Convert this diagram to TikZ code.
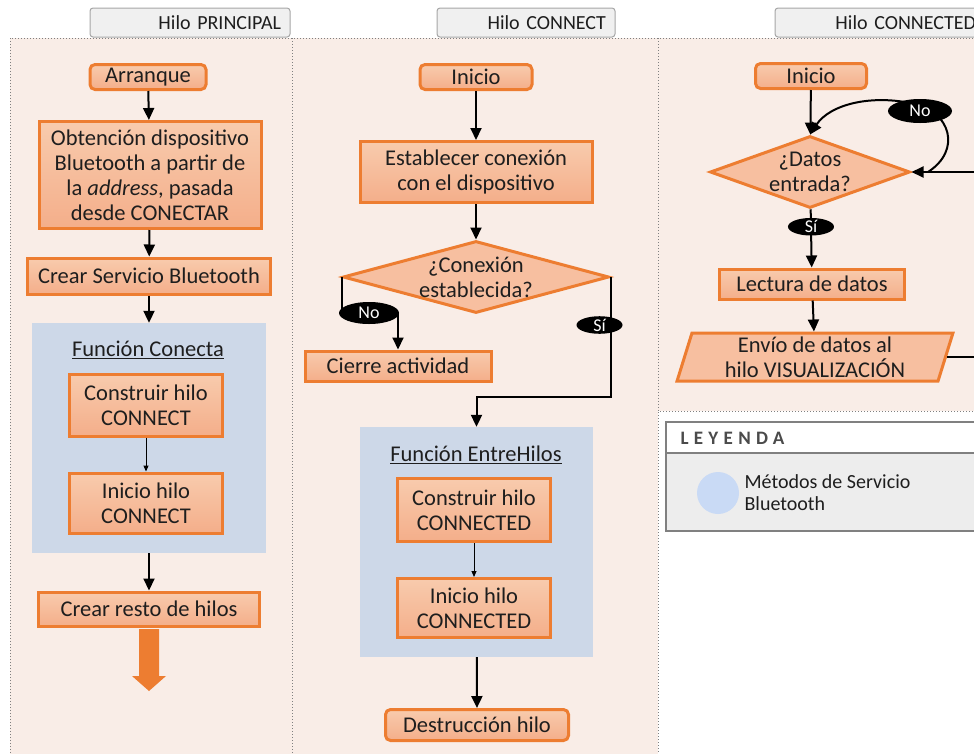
\documentclass[tikz,border=0pt]{standalone}
\usepackage{fontspec}
\setmainfont{Carlito}
\usetikzlibrary{arrows.meta,shapes}

\definecolor{naranja}{HTML}{ED7D31}
\definecolor{salmonclaro}{HTML}{F8CBAD}
\definecolor{salmon}{HTML}{F4AE8A}
\definecolor{rombo}{HTML}{F7BFA0}
\definecolor{fondohilo}{HTML}{F9EDE7}
\definecolor{azulfuncion}{HTML}{CDD8E8}
\definecolor{azulleyenda}{HTML}{C9DAF5}
\definecolor{gristab}{HTML}{F0F0F0}
\definecolor{grisleyenda}{HTML}{EDEDED}
\definecolor{bordegris}{HTML}{A6A6A6}
\definecolor{texto}{HTML}{1E1E1E}

\begin{document}
\begin{tikzpicture}[x=1pt, y=-1pt,
 every node/.style={text=texto, font=\fontsize{22.5}{25}\selectfont},
 proceso/.style={rectangle, draw=naranja, line width=3pt, top color=salmonclaro, bottom color=salmon, align=center, inner sep=2pt},
 inicio/.style={proceso, rounded corners=5pt},
 decision/.style={diamond, draw=naranja, line width=3pt, fill=rombo, inner sep=0pt},
 salida/.style={trapezium, trapezium left angle=76, trapezium right angle=104, trapezium stretches, draw=naranja, line width=3pt, fill=rombo, align=center, inner sep=2pt},
 funcion/.style={rectangle, fill=azulfuncion, inner sep=0pt},
 etiqueta/.style={ellipse, fill=black, text=white, inner sep=0pt, font=\fontsize{18}{18}\selectfont},
 pestana/.style={rectangle, draw=bordegris, fill=gristab, rounded corners=3pt, line width=1pt, inner xsep=9pt, minimum height=29pt, align=right, font=\fontsize{20}{20}\selectfont},
 carril/.style={draw=gray, line width=1pt, dash pattern=on 1pt off 2pt, fill=fondohilo},
 flecha/.style={-{Triangle[length=12pt,width=11pt]}, line width=2pt},
 flechita/.style={-{Triangle[length=6pt,width=5pt]}, line width=1pt}]

\useasboundingbox (0,0) rectangle (974,753);
\clip (0,0) rectangle (974,753);

% carriles de cada hilo
\draw[carril] (10,38) rectangle (292,770);
\draw[carril] (292,38) rectangle (658,770);
\draw[carril] (658,38) rectangle (990,411);

\node[pestana, text width=182pt] (tabP) at (190,22.5) {Hilo PRINCIPAL};
\node[pestana, text width=160pt] (tabC) at (526,22.5) {Hilo CONNECT};
\node[pestana, text width=192pt] (tabD) at (880,22.5) {Hilo CONNECTED};

% hilo principal
\node[inicio, minimum width=116pt, minimum height=25pt] (arranque) at (148,77) {Arranque};
\node[proceso, minimum width=222pt, minimum height=107pt] (obtencion) at (150,175)
 {Obtención dispositivo\\Bluetooth a partir de\\la \textit{address}, pasada\\desde CONECTAR};
\node[proceso, minimum width=243pt, minimum height=36pt] (servicio) at (149,276) {Crear Servicio Bluetooth};
\node[funcion, minimum width=234pt, minimum height=230pt] (conecta) at (149,438) {};
\node (tituloConecta) at (148,350) {\underline{Función Conecta}};
\node[proceso, minimum width=153pt, minimum height=62pt] (construirC) at (146,405) {Construir hilo\\CONNECT};
\node[proceso, minimum width=153pt, minimum height=60pt] (inicioC) at (146,503) {Inicio hilo\\CONNECT};
\node[proceso, minimum width=221pt, minimum height=34pt] (resto) at (149,609) {Crear resto de hilos};

\draw[flecha] (arranque) -- (obtencion);
\draw[flecha] (obtencion) -- (servicio);
\draw[flecha] (servicio) -- (conecta);
\draw[flechita] (construirC) -- (inicioC);
\draw[flecha] (conecta) -- (resto);
\fill[naranja] (resto.south) ++(-10,1.5) -- ++(0,47) -- ++(-7,0) -- ++(17,15) -- ++(17,-15) -- ++(-7,0) -- ++(0,-47) -- cycle;

% hilo CONNECT
\node[inicio, minimum width=112pt, minimum height=25pt] (inicioA) at (476,77) {Inicio};
\node[proceso, minimum width=232pt, minimum height=61pt] (establecer) at (476,172) {Establecer conexión\\con el dispositivo};
\node[decision, minimum width=266pt, minimum height=72pt,
 label={[align=center]center:¿Conexión\\establecida?}] (conexion) at (476,277) {};
\node[proceso, minimum width=186pt, minimum height=30pt] (cierre) at (398,366) {Cierre actividad};
\node[funcion, minimum width=233pt, minimum height=230pt] (entrehilos) at (476.5,542) {};
\node (tituloEntre) at (476,455) {\underline{Función EntreHilos}};
\node[proceso, minimum width=153pt, minimum height=63pt] (construirD) at (474,510) {Construir hilo\\CONNECTED};
\node[proceso, minimum width=153pt, minimum height=59pt] (inicioD) at (474,608) {Inicio hilo\\CONNECTED};
\node[inicio, minimum width=183pt, minimum height=31pt] (destruccion) at (477,725) {Destrucción hilo};

\draw[flecha] (inicioA) -- (establecer);
\draw[flecha] (establecer) -- (conexion);
\draw[flecha] (conexion.west) |- (369,313) node[etiqueta, minimum width=60pt, minimum height=22pt] {No} -| (cierre.north);
\draw[flecha] (conexion.east) -- (conexion.east |- 0,397)
 node[etiqueta, pos=0.4, xshift=-11pt, minimum width=46pt, minimum height=17pt] {Sí} -| (entrehilos.north);
\draw[flechita] (construirD) -- (inicioD);
\draw[flecha] (entrehilos) -- (destruccion);

% hilo CONNECTED
\node[inicio, minimum width=111pt, minimum height=25pt] (inicioB) at (811,76) {Inicio};
\node[decision, minimum width=200pt, minimum height=72pt,
 label={[align=center]center:¿Datos\\entrada?}] (datos) at (810,172) {};
\node[proceso, minimum width=185pt, minimum height=30pt] (lectura) at (812,284) {Lectura de datos};
\node[salida, minimum width=276pt, minimum height=48pt] (envio) at (815,357) {Envío de datos al\\hilo VISUALIZACIÓN};
\coordinate (lazo) at (928,172);

\draw[flecha] (inicioB) -- (datos);
\draw[flecha] (datos) -- (lectura) node[etiqueta, pos=0.3, minimum width=46pt, minimum height=17pt] {Sí};
\draw[flecha] (lectura) -- (envio);
\draw[flecha] (envio.east) -- ++(40,0) |- (datos.east);
\draw[flecha] (lazo) .. controls (962,150) and (950,112) .. (915,104) .. controls (872,94) and (830,104) .. (datos.north);
\node[etiqueta, minimum width=64pt, minimum height=24pt] (noB) at (920,111) {No};

% leyenda
\draw[draw=gray, line width=2.5pt, fill=grisleyenda] (666,422) rectangle (995,531);
\draw[draw=gray, line width=2pt, fill=white] (666,422) rectangle (995,453);
\node[anchor=west, text=texto!80, font=\fontsize{19}{19}\selectfont\bfseries\addfontfeatures{LetterSpace=28}] (leyenda) at (677,438) {LEYENDA};
\fill[azulleyenda] (718,493) circle (21pt);
\node[anchor=west, align=left, font=\fontsize{20}{22}\selectfont] (metodos) at (741,493) {Métodos de Servicio\\Bluetooth};
\end{tikzpicture}
\end{document}
